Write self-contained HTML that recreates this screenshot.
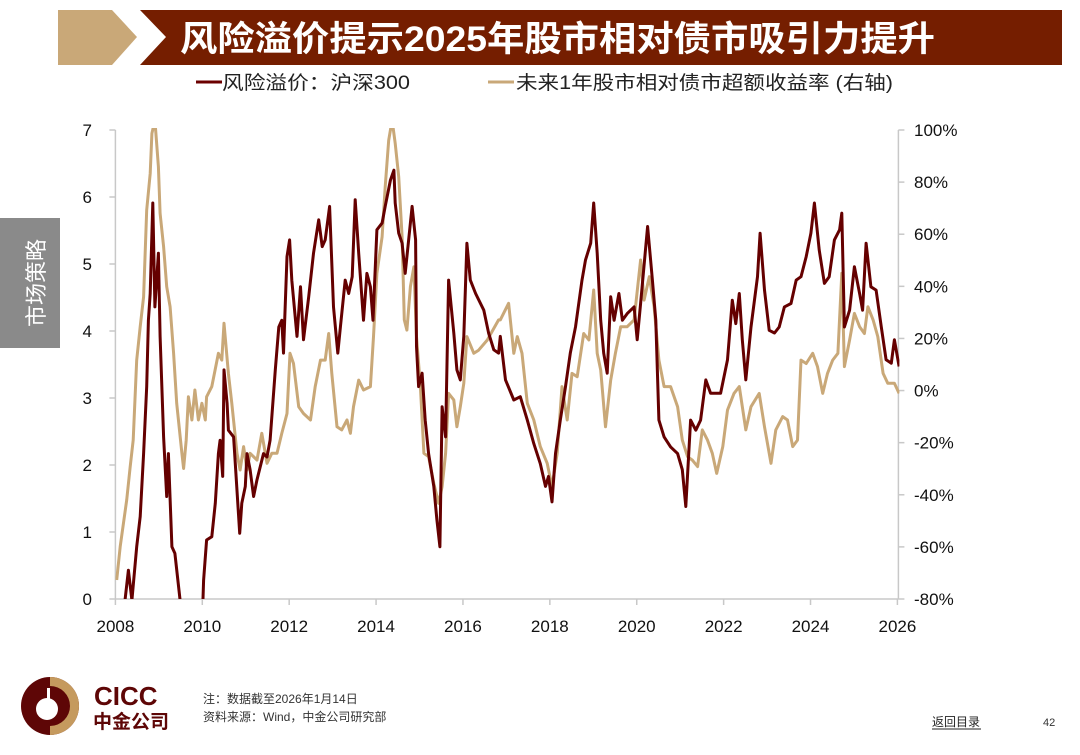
<!DOCTYPE html>
<html><head><meta charset="utf-8">
<style>
body{margin:0;width:1080px;height:755px;background:#fff;position:relative;overflow:hidden;font-family:"Liberation Sans","Noto Sans CJK SC",sans-serif}
.abs{position:absolute}
</style></head>
<body>
<svg class="abs" style="left:0;top:0" width="1080" height="755">
  <polygon points="58,10 112,10 137,37 112,65 58,65" fill="#c9a878"/>
  <polygon points="140,10 1062,10 1062,65 140,65 166,37" fill="#751e00"/>
  <text x="180" y="51" fill="#fff" font-size="35" font-weight="bold" textLength="755" lengthAdjust="spacingAndGlyphs" font-family="Liberation Sans, Noto Sans CJK SC, sans-serif">风险溢价提示2025年股市相对债市吸引力提升</text>
  <line x1="196" y1="82" x2="222" y2="82" stroke="#6b0000" stroke-width="3"/>
  <text x="222" y="89" font-size="19" fill="#222" textLength="188" lengthAdjust="spacingAndGlyphs" font-family="Liberation Sans, Noto Sans CJK SC, sans-serif">风险溢价：沪深300</text>
  <line x1="488" y1="82" x2="514" y2="82" stroke="#c9a878" stroke-width="3"/>
  <text x="516" y="89" font-size="19" fill="#222" textLength="377" lengthAdjust="spacingAndGlyphs" font-family="Liberation Sans, Noto Sans CJK SC, sans-serif">未来1年股市相对债市超额收益率 (右轴)</text>
  <rect x="0" y="218" width="60" height="130" fill="#8a8a8a"/>
  <text transform="translate(44,283) rotate(-90)" text-anchor="middle" fill="#fff" font-size="22" font-family="Noto Sans CJK SC, sans-serif">市场策略</text>
  <g id="chart"></g>
  <g>
    <circle cx="50" cy="706" r="29" fill="#5e0606"/>
    <path d="M50,677 A29,29 0 0 1 50,735 L50,726 A20,20 0 0 0 50,686 Z" fill="#c59a5e"/>
    <circle cx="47" cy="709" r="11" fill="#fff"/>
    <rect x="47" y="688" width="3" height="20" fill="#fff"/>
    <text x="94" y="705" font-size="26" font-weight="bold" fill="#5e0606" font-family="Liberation Sans, sans-serif">CICC</text>
    <text x="93" y="728" font-size="19" font-weight="bold" fill="#5e0606" font-family="Noto Sans CJK SC, sans-serif">中金公司</text>
  </g>
  <text x="203" y="703" font-size="12" fill="#333" font-family="Liberation Sans, Noto Sans CJK SC, sans-serif">注：数据截至2026年1月14日</text>
  <text x="203" y="721" font-size="12" fill="#333" font-family="Liberation Sans, Noto Sans CJK SC, sans-serif">资料来源：Wind，中金公司研究部</text>
  <text x="932" y="726" font-size="12" fill="#222" font-family="Noto Sans CJK SC, sans-serif">返回目录</text>
  <line x1="932" y1="729" x2="981" y2="729" stroke="#222" stroke-width="1"/>
  <text x="1043" y="726" font-size="11" fill="#333">42</text>
</svg>
<script>
const leftTicks=[0,1,2,3,4,5,6,7];
const rightTicks=[-80,-60,-40,-20,0,20,40,60,80,100];
const yearTicks=[2008,2010,2012,2014,2016,2018,2020,2022,2024,2026];
const riskYears=[2008.0,2008.22,2008.30,2008.38,2008.49,2008.57,2008.65,2008.72,2008.76,2008.80,2008.86,2008.91,2008.99,2009.03,2009.11,2009.18,2009.22,2009.30,2009.37,2009.49,2009.7,2009.99,2010.03,2010.10,2010.22,2010.30,2010.37,2010.41,2010.47,2010.50,2010.57,2010.60,2010.72,2010.86,2010.91,2010.99,2011.03,2011.10,2011.18,2011.26,2011.41,2011.49,2011.56,2011.68,2011.76,2011.83,2011.87,2011.95,2012.01,2012.06,2012.18,2012.26,2012.33,2012.45,2012.56,2012.68,2012.76,2012.83,2012.93,2013.02,2013.12,2013.18,2013.29,2013.37,2013.45,2013.52,2013.60,2013.71,2013.79,2013.87,2013.93,2014.02,2014.14,2014.21,2014.33,2014.41,2014.44,2014.52,2014.60,2014.67,2014.83,2014.91,2014.93,2014.98,2015.06,2015.13,2015.21,2015.33,2015.40,2015.47,2015.52,2015.60,2015.67,2015.79,2015.86,2015.94,2016.02,2016.09,2016.17,2016.29,2016.48,2016.59,2016.71,2016.82,
2016.86,2016.98,2017.17,2017.32,2017.48,2017.63,2017.78,2017.90,2017.97,2018.05,2018.13,2018.24,2018.36,2018.47,2018.59,2018.74,2018.82,2018.94,2019.01,2019.09,2019.17,2019.24,2019.32,2019.40,2019.48,2019.59,2019.67,2019.78,2019.94,2020.01,2020.09,2020.25,2020.36,2020.44,2020.51,2020.63,2020.78,2020.94,2021.05,2021.13,2021.24,2021.36,2021.47,2021.59,2021.70,2021.93,2022.09,2022.20,2022.28,2022.36,2022.43,2022.51,2022.63,2022.78,2022.84,2022.94,2023.05,2023.17,2023.28,2023.40,2023.55,2023.67,2023.78,2023.90,2024.01,2024.09,2024.20,2024.32,2024.43,2024.55,2024.67,2024.72,2024.78,2024.90,2025.01,2025.13,2025.20,2025.28,2025.39,2025.51,2025.63,2025.74,2025.86,2025.93,2026.04];
const riskValues=[-0.5,-0.02,0.43,-0.02,0.78,1.23,2.17,3.17,4.16,4.56,5.91,4.36,5.16,3.92,2.42,1.53,2.17,0.78,0.68,-0.02,-1,-0.5,0.28,0.88,0.93,1.43,2.17,2.37,1.83,3.42,2.92,2.52,2.42,0.98,1.43,1.68,2.17,1.93,1.53,1.78,2.17,2.12,2.37,3.42,4.06,4.16,3.67,5.11,5.36,4.76,3.92,4.66,3.87,4.51,5.16,5.66,5.26,5.36,5.86,4.36,3.67,4.06,4.76,4.56,4.81,5.96,5.16,4.16,4.86,4.66,4.16,5.51,5.61,5.86,6.25,6.40,5.91,5.46,5.31,4.86,5.86,5.36,3.77,3.17,3.37,2.67,2.17,1.68,1.18,0.78,2.87,2.42,4.76,3.97,3.42,3.27,3.92,5.31,4.76,4.56,4.31,3.97,3.72,3.67,
3.92,3.27,2.97,3.02,2.67,2.32,2.02,1.68,1.83,1.45,2.17,2.67,3.17,3.67,4.06,4.76,5.06,5.31,5.91,5.16,4.16,3.67,3.37,4.51,4.16,4.56,4.16,4.26,4.36,3.87,4.41,5.56,4.76,4.16,2.67,2.42,2.27,2.17,1.93,1.38,2.67,2.52,2.67,3.27,3.07,3.07,3.57,4.46,4.11,4.56,3.87,3.27,4.06,4.81,5.46,4.61,4.01,3.97,4.06,4.36,4.41,4.76,4.81,5.11,5.46,5.91,5.21,4.71,4.81,5.36,5.51,5.76,4.06,4.31,4.96,4.56,4.31,5.31,4.66,4.61,4.06,3.57,3.52,3.87,3.47];
const retYears=[2008.03,2008.11,2008.26,2008.34,2008.41,2008.49,2008.57,2008.65,2008.72,2008.80,2008.84,2008.91,2008.99,2009.03,2009.11,2009.18,2009.26,2009.34,2009.41,2009.53,2009.57,2009.63,2009.68,2009.76,2009.83,2009.91,2009.99,2010.07,2010.10,2010.22,2010.37,2010.45,2010.50,2010.60,2010.68,2010.80,2010.87,2010.95,2011.03,2011.10,2011.26,2011.37,2011.49,2011.60,2011.72,2011.83,2011.95,2012.02,2012.10,2012.22,2012.33,2012.49,2012.60,2012.72,2012.83,2012.91,2012.98,2013.10,2013.21,2013.33,2013.41,2013.48,2013.60,2013.71,2013.87,2013.94,2014.02,2014.14,2014.21,2014.29,2014.37,2014.44,2014.52,2014.60,2014.65,2014.71,2014.79,2014.87,2014.93,2015.02,2015.10,2015.21,2015.33,2015.44,2015.52,2015.60,2015.67,2015.79,2015.86,2015.94,2016.02,2016.09,2016.25,2016.36,2016.56,2016.82,
2016.86,2017.05,2017.17,2017.25,2017.36,2017.48,2017.63,2017.78,2017.94,2018.05,2018.17,2018.28,2018.40,2018.51,2018.63,2018.78,2018.90,2019.01,2019.09,2019.17,2019.28,2019.40,2019.51,2019.63,2019.78,2019.94,2020.09,2020.17,2020.29,2020.40,2020.51,2020.63,2020.78,2020.94,2021.05,2021.17,2021.28,2021.40,2021.51,2021.63,2021.74,2021.84,2021.98,2022.09,2022.24,2022.36,2022.51,2022.63,2022.82,2022.94,2023.09,2023.20,2023.36,2023.47,2023.59,2023.70,2023.78,2023.90,2024.05,2024.16,2024.28,2024.39,2024.51,2024.63,2024.72,2024.78,2024.90,2025.01,2025.13,2025.24,2025.32,2025.44,2025.55,2025.67,2025.78,2025.93,2026.04];
const retValues=[-72.7,-59.9,-42.0,-29.2,-19.0,11.7,24.5,36.0,69.3,83.3,98.7,103.8,85.9,68.0,55.2,39.9,32.2,14.3,-4.9,-24.1,-29.9,-19.0,-2.4,-11.3,0.2,-11.3,-4.9,-11.3,-2.4,1.5,14.3,11.7,25.8,6.6,-4.9,-24.1,-30.5,-21.5,-30.5,-24.1,-26.7,-16.4,-27.9,-24.1,-24.1,-16.4,-8.8,14.3,10.4,-6.2,-8.8,-11.3,1.5,11.7,11.7,21.9,6.6,-13.9,-15.1,-11.3,-16.4,-6.2,4.0,0.2,1.5,20.7,45.0,59.0,78.2,96.1,103.8,94.9,82.1,59.0,27.1,23.2,39.9,47.5,20.7,1.5,-24.1,-25.4,-35.6,-43.3,-36.9,-24.1,-1.1,-3.6,-13.9,-6.2,2.8,20.7,14.3,15.5,19.4,27.1,
27.1,33.5,14.3,20.7,14.3,-4.9,-11.3,-21.5,-27.9,-36.9,-24.1,1.5,-11.3,6.6,5.3,21.9,19.4,38.6,14.3,7.9,-13.9,4.0,14.3,24.5,24.5,27.1,50.1,34.7,43.7,32.2,11.7,1.5,1.5,-6.2,-19.0,-25.4,-26.7,-29.2,-15.1,-19.0,-24.1,-31.8,-21.5,-7.5,-1.1,1.5,-15.1,-6.2,-1.1,-13.9,-27.9,-15.1,-10.0,-11.3,-21.5,-19.0,11.7,10.4,14.3,9.2,-1.1,6.6,11.7,14.3,45.0,9.2,19.4,29.6,24.5,21.9,32.2,27.1,20.7,6.6,2.8,2.8,-1.1];

const X0=115.4,X1=897.4,Y0=599,Y1=130;
const xs=y=>X0+(y-2008)/18*(X1-X0);
const yl=v=>Y0-v/7*(Y0-Y1);
const yr=v=>Y0-(v+80)/180*(Y0-Y1);
const NS='http://www.w3.org/2000/svg';
const g=document.getElementById('chart');
function mk(tag,attrs,parent){const e=document.createElementNS(NS,tag);for(const k in attrs)e.setAttribute(k,attrs[k]);(parent||g).appendChild(e);return e;}
const defs=mk('defs',{});
const cp=mk('clipPath',{id:'plotclip'},defs);
mk('rect',{x:X0,y:Y1-2,width:X1-X0+2,height:Y0-Y1+2},cp);
let ax=mk('line',{x1:X0,y1:Y1,x2:X0,y2:Y0,stroke:'#c8c8c8','stroke-width':1.5});


ax=mk('line',{x1:X1+1,y1:Y1,x2:X1+1,y2:Y0,stroke:'#c8c8c8','stroke-width':1.5});


ax=mk('line',{x1:X0,y1:Y0,x2:X1+1,y2:Y0,stroke:'#c8c8c8','stroke-width':1.5});


const font='Liberation Sans, sans-serif';
leftTicks.forEach(v=>{
  const y=yl(v);
  mk('line',{x1:X0-6,y1:y,x2:X0,y2:y,stroke:'#c8c8c8','stroke-width':1.5});
  const t=mk('text',{x:92,y:y+6,'text-anchor':'end','font-size':17,fill:'#111','font-family':font});
  t.textContent=v;
  
  
});
rightTicks.forEach(v=>{
  const y=yr(v);
  mk('line',{x1:X1+1,y1:y,x2:X1+7,y2:y,stroke:'#c8c8c8','stroke-width':1.5});
  const t=mk('text',{x:914,y:y+6,'font-size':17,fill:'#111','font-family':font});
  t.textContent=v+'%';
  
  
});
yearTicks.forEach(v=>{
  const x=xs(v);
  mk('line',{x1:x,y1:Y0,x2:x,y2:Y0+6,stroke:'#c8c8c8','stroke-width':1.5});
  const t=mk('text',{x:x,y:632,'text-anchor':'middle','font-size':17,fill:'#111','font-family':font});
  t.textContent=v;
  
  
});
function path(xsArr,vals,fy){return xsArr.map((d,i)=>(i?'L':'M')+xs(d).toFixed(1)+','+fy(vals[i]).toFixed(1)).join('');}
const lr=mk('path',{d:path(retYears,retValues,yr),fill:'none',stroke:'#c9a878','stroke-width':3,'stroke-linejoin':'round','clip-path':'url(#plotclip)'});


const lp=mk('path',{d:path(riskYears,riskValues,yl),fill:'none',stroke:'#650000','stroke-width':3,'stroke-linejoin':'round','clip-path':'url(#plotclip)'});


</script>
</body></html>
